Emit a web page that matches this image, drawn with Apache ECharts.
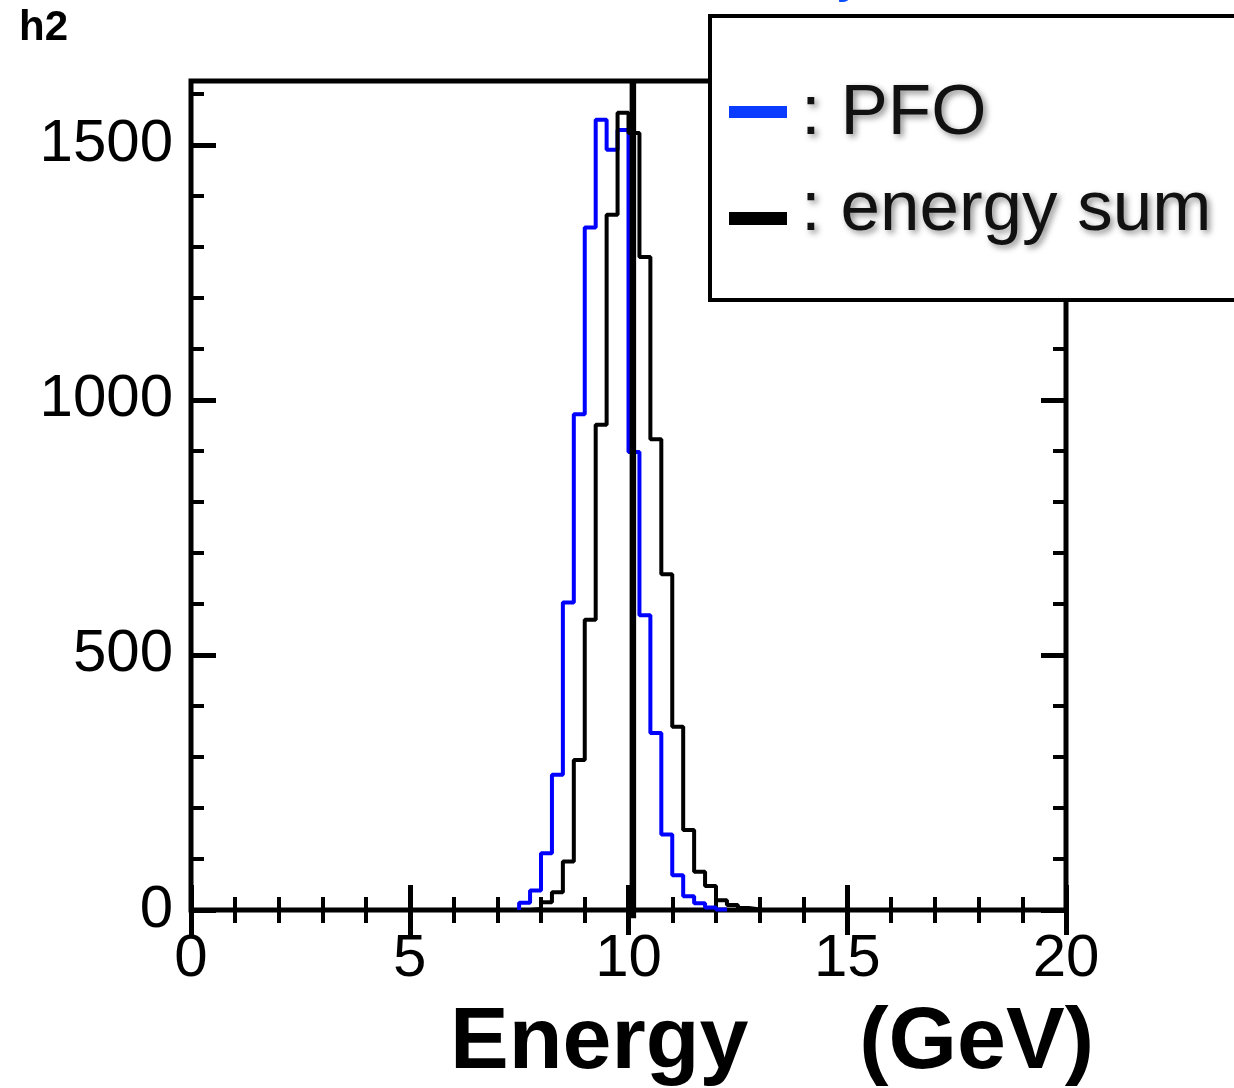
<!DOCTYPE html>
<html>
<head>
<meta charset="utf-8">
<title>h2</title>
<script src="https://cdn.jsdelivr.net/npm/echarts@6/dist/echarts.min.js"></script>
<style>
  html, body { margin: 0; padding: 0; background: #ffffff; }
  #chart { width: 1234px; height: 1088px; }
</style>
</head>
<body>
<div id="chart"></div>
<script>
// Histogram name and series
const histName = 'h2';
const seriesNames = ['PFO', 'energy sum'];
const seriesColors = ['#0000ff', '#000000'];
const legendIconColors = ['#0a3cff', '#000000'];
// Only the tail of the pad title shows at the top edge
const padTitleTail = 'y';

// Binning: 0.25 GeV bins, listed from the first bin lower edge below
const binLowStart = 7.25;
const binWidth = 0.25;

// Counts per bin, lower edges 7.25, 7.50, ..., 12.75 GeV
const pfoCounts = [0, 14, 38, 111, 265, 603, 972, 1338, 1549, 1490, 1529, 898,
                   578, 347, 148, 68, 27, 13, 5, 1, 0, 0, 0];
const sumCounts = [0, 0, 2, 15, 35, 95, 294, 569, 951, 1363, 1563, 1523,
                   1280, 923, 658, 359, 157, 75, 47, 19, 10, 4, 1];

// Reference energy drawn as a vertical line
const refEnergy = 10.1;

// Axis ranges and ticks
const xRange = [0, 20];
const yRange = [0, 1625];
const xMajorStep = 5;
const xMinorSplit = 5;
const yMajorStep = 500;
const yMinorStep = 100;
const axisTitleParts = ['Energy', '(GeV)'];

const FONT = 'Liberation Sans, Arial, Helvetica, sans-serif';

// Step outline of a histogram over its non-empty bins, closed down to zero at both ends
function histOutline(counts) {
  let first = 0, last = counts.length - 1;
  while (first < last && counts[first] === 0) first++;
  while (last > first && counts[last] === 0) last--;
  const lo = binLowStart + first * binWidth;
  const pts = [[lo, 0]];
  for (let i = first; i <= last; i++) pts.push([binLowStart + i * binWidth, counts[i]]);
  pts.push([binLowStart + (last + 1) * binWidth, 0]);
  return pts;
}

const chart = echarts.init(document.getElementById('chart'), null, { renderer: 'canvas' });

const tickMajor = { inside: true, length: 25, lineStyle: { color: '#000', width: 5 } };
const tickMinor = { inside: true, length: 13, lineStyle: { color: '#000', width: 4 } };

function xAxisDef(position, showLabels) {
  return {
    type: 'value', position: position,
    min: xRange[0], max: xRange[1], interval: xMajorStep,
    axisLine: { show: false },
    splitLine: { show: false },
    axisTick: tickMajor,
    minorTick: { show: true, splitNumber: xMinorSplit, length: 13, lineStyle: { color: '#000', width: 4 } },
    axisLabel: {
      show: showLabels, margin: 19, color: '#000',
      fontSize: 60, fontFamily: FONT,
      formatter: v => String(v)
    }
  };
}

function yAxisDef(position, step, tick, showLabels) {
  return {
    type: 'value', position: position,
    min: yRange[0], max: yRange[1], interval: step,
    axisLine: { show: false },
    splitLine: { show: false },
    axisTick: tick,
    axisLabel: {
      show: showLabels, margin: 18, color: '#000',
      fontSize: 60, fontFamily: FONT, showMaxLabel: false,
      formatter: v => String(v)
    }
  };
}

const legendText = {
  font: '71px ' + FONT, fill: '#111',
  textShadowColor: 'rgba(0,0,0,0.45)', textShadowBlur: 6,
  textShadowOffsetX: 3, textShadowOffsetY: 3,
  verticalAlign: 'middle'
};

const option = {
  animation: false,
  backgroundColor: '#ffffff',
  grid: {
    show: true, left: 191, top: 81, right: 168, bottom: 178,
    borderColor: '#000', borderWidth: 5, backgroundColor: 'transparent'
  },
  xAxis: [xAxisDef('bottom', true), xAxisDef('top', false)],
  yAxis: [
    yAxisDef('left', yMajorStep, tickMajor, true),
    yAxisDef('left', yMinorStep, tickMinor, false),
    yAxisDef('right', yMajorStep, tickMajor, false),
    yAxisDef('right', yMinorStep, tickMinor, false)
  ],
  series: [
    {
      name: seriesNames[0], type: 'line', step: 'end',
      data: histOutline(pfoCounts),
      showSymbol: false, symbol: 'none',
      lineStyle: { color: seriesColors[0], width: 4 },
      itemStyle: { color: seriesColors[0] },
      z: 3
    },
    {
      name: seriesNames[1], type: 'line', step: 'end',
      data: histOutline(sumCounts),
      showSymbol: false, symbol: 'none',
      lineStyle: { color: seriesColors[1], width: 4 },
      itemStyle: { color: seriesColors[1] },
      z: 4
    },
    {
      name: 'reference', type: 'line',
      data: [[refEnergy, -16], [refEnergy, 1629]],
      showSymbol: false, symbol: 'none', clip: false,
      lineStyle: { color: '#000', width: 6.5 },
      silent: true, z: 5
    }
  ],
  graphic: [
    // histogram name, top left
    {
      type: 'text', z: 50,
      style: { text: histName, x: 19, y: 28, verticalAlign: 'middle',
               font: 'bold 42px ' + FONT, fill: '#000' }
    },
    // pad title tail at the top edge
    {
      type: 'text', z: 50,
      style: { text: padTitleTail, x: 867, y: -27, align: 'right', verticalAlign: 'middle',
               font: '60px ' + FONT, fill: '#0a50ff' }
    },
    // legend box
    {
      type: 'rect', z: 60,
      shape: { x: 710, y: 16, width: 560, height: 284 },
      style: { fill: '#ffffff', stroke: '#000', lineWidth: 4 }
    },
    {
      type: 'rect', z: 61,
      shape: { x: 729, y: 106, width: 58, height: 12 },
      style: { fill: legendIconColors[0] }
    },
    {
      type: 'rect', z: 61,
      shape: { x: 729, y: 212, width: 58, height: 13 },
      style: { fill: legendIconColors[1] }
    },
    {
      type: 'text', z: 61,
      style: Object.assign({ text: ': ' + seriesNames[0], x: 801, y: 114 }, legendText)
    },
    {
      type: 'text', z: 61,
      style: Object.assign({ text: ': ' + seriesNames[1], x: 801, y: 210 }, legendText)
    },
    // x axis title
    {
      type: 'text', z: 50,
      style: { text: axisTitleParts[0], x: 450, y: 1044, verticalAlign: 'middle',
               font: 'bold 88px ' + FONT, fill: '#000' }
    },
    {
      type: 'text', z: 50,
      style: { text: axisTitleParts[1], x: 1094, y: 1044, align: 'right', verticalAlign: 'middle',
               font: 'bold 88px ' + FONT, fill: '#000' }
    }
  ]
};

chart.setOption(option);
</script>
</body>
</html>
